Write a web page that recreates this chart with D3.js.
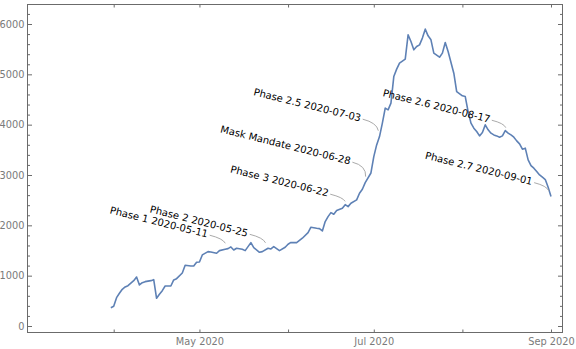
<!DOCTYPE html>
<html>
<head>
<meta charset="utf-8">
<script src="https://cdn.jsdelivr.net/npm/d3@7"></script>
<style>
  body { margin: 0; background: #fff; }
  svg { display: block; font-family: "DejaVu Sans", sans-serif; }
</style>
</head>
<body>
<div id="chart"></div>
<script>
// daily values (month-day, 2020)
const dates = [
  "03-31","04-01","04-02","04-03","04-04","04-05","04-06","04-08","04-09","04-10",
  "04-11","04-12","04-14","04-15","04-16","04-17","04-18","04-19","04-21","04-22",
  "04-23","04-25","04-26","04-28","04-29","04-30","05-01","05-02","05-04","05-05",
  "05-07","05-08","05-10","05-11","05-12","05-13","05-14","05-16","05-17","05-19",
  "05-20","05-22","05-23","05-25","05-26","05-27","05-29","05-31","06-01","06-02",
  "06-04","06-06","06-08","06-09","06-11","06-12","06-13","06-14","06-15","06-16",
  "06-17","06-18","06-20","06-21","06-22","06-23","06-25","06-26","06-27","06-28",
  "06-30","07-01","07-02","07-03","07-04","07-05","07-06","07-07","07-08","07-09",
  "07-10","07-12","07-13","07-14","07-15","07-16","07-17","07-18","07-19","07-20",
  "07-21","07-22","07-24","07-25","07-26","07-27","07-29","07-30","08-01","08-02",
  "08-03","08-04","08-05","08-06","08-07","08-08","08-09","08-10","08-11","08-12",
  "08-13","08-14","08-15","08-16","08-17","08-18","08-19","08-20","08-21","08-22",
  "08-23","08-24","08-25","08-26","08-27","08-28","08-29","08-30","08-31","09-01"
];
const cases = [
  364, 392, 563, 650, 730, 775, 801, 901, 974, 815,
  861, 881, 901, 921, 551, 630, 702, 795, 795, 915,
  940, 1054, 1207, 1193, 1193, 1266, 1272, 1412, 1478, 1471,
  1445, 1497, 1525, 1537, 1571, 1511, 1545, 1525, 1497, 1656,
  1557, 1465, 1478, 1545, 1531, 1577, 1497, 1565, 1624, 1660,
  1656, 1744, 1855, 1962, 1942, 1934, 1889, 2074, 2173, 2253,
  2221, 2293, 2340, 2410, 2372, 2439, 2505, 2638, 2718, 2849,
  3040, 3366, 3598, 3763, 4030, 4328, 4294, 4427, 4956, 5103,
  5222, 5302, 5785, 5652, 5487, 5553, 5586, 5720, 5898, 5765,
  5686, 5421, 5341, 5421, 5633, 5454, 5023, 4658, 4573, 4559,
  4261, 4030, 3930, 3863, 3777, 3845, 3996, 3897, 3831, 3797,
  3777, 3751, 3777, 3883, 3831, 3797, 3751, 3678, 3618, 3513,
  3533, 3300, 3187, 3135, 3068, 3002, 2956, 2910, 2757, 2571
];

// callout events
const events = ["Phase 1", "Phase 2", "Phase 3", "Mask Mandate", "Phase 2.5", "Phase 2.6", "Phase 2.7"];
const eventDates = ["2020-05-11", "2020-05-25", "2020-06-22", "2020-06-28", "2020-07-03", "2020-08-17", "2020-09-01"];
// where the end of each label sits relative to its point (layout only)
const labelOffsets = [[-21, -11], [-21, -11.5], [-20.5, -10], [-15.5, -18], [-19.5, -15], [-19, -10.5], [-19.5, -11.5]];

const yTicks = [0, 1000, 2000, 3000, 4000, 5000, 6000];
const monthTicks = ["2020-04-01", "2020-05-01", "2020-06-01", "2020-07-01", "2020-08-01", "2020-09-01"];
const monthLabels = ["", "May 2020", "", "Jul 2020", "", "Sep 2020"];

const width = 576, height = 349;
const frame = { left: 27.5, right: 562.5, top: 4.5, bottom: 332.5 };
const parse = d3.utcParse("%Y-%m-%d");

const data = dates.map((d, i) => ({ date: parse("2020-" + d), value: cases[i] }));

const x = d3.scaleUtc()
    .domain([parse("2020-04-01"), parse("2020-09-01")])
    .range([113.7, 551]);
const y = d3.scaleLinear()
    .domain([0, 6000])
    .range([326, 24]);

const svg = d3.select("#chart").append("svg")
    .attr("width", width)
    .attr("height", height);

const frameColor = "#6b6b6b";
const textColor = "#7a7a7a";

// frame
svg.append("rect")
    .attr("x", frame.left)
    .attr("y", frame.top)
    .attr("width", frame.right - frame.left)
    .attr("height", frame.bottom - frame.top)
    .attr("fill", "none")
    .attr("stroke", frameColor);

const monthDates = monthTicks.map(parse);
const minorY = d3.range(0, 6400, 200).filter(v => v % 1000 !== 0);

function styleAxis(g) {
    g.select(".domain").remove();
    g.selectAll("line").attr("stroke", frameColor);
    g.selectAll("text").attr("fill", textColor).style("font-size", "9.8px").style("font-family", "DejaVu Sans");
}

// bottom / top
svg.append("g")
    .attr("transform", `translate(0,${frame.bottom})`)
    .call(d3.axisBottom(x).tickValues(monthDates).tickSize(-3).tickPadding(5.5)
        .tickFormat((d, i) => monthLabels[i]))
    .call(styleAxis);
svg.append("g")
    .attr("transform", `translate(0,${frame.top})`)
    .call(d3.axisTop(x).tickValues(monthDates).tickSize(-3).tickFormat(""))
    .call(styleAxis);

// left / right
svg.append("g")
    .attr("transform", `translate(${frame.left},0)`)
    .call(d3.axisLeft(y).tickValues(yTicks).tickSize(-4.5).tickPadding(3).tickFormat(d3.format("d")))
    .call(styleAxis);
svg.append("g")
    .attr("transform", `translate(${frame.left},0)`)
    .call(d3.axisLeft(y).tickValues(minorY).tickSize(-2.5).tickFormat(""))
    .call(styleAxis);
svg.append("g")
    .attr("transform", `translate(${frame.right},0)`)
    .call(d3.axisRight(y).tickValues(yTicks).tickSize(-4.5).tickFormat(""))
    .call(styleAxis);
svg.append("g")
    .attr("transform", `translate(${frame.right},0)`)
    .call(d3.axisRight(y).tickValues(minorY).tickSize(-2.5).tickFormat(""))
    .call(styleAxis);

// series
const line = d3.line()
    .x(d => x(d.date))
    .y(d => y(d.value));

svg.append("path")
    .datum(data)
    .attr("d", line)
    .attr("fill", "none")
    .attr("stroke", "#5e81b5")
    .attr("stroke-width", 1.6)
    .attr("stroke-linejoin", "round");

// callouts
const angle = 14;
const rad = angle * Math.PI / 180;
const dir = [Math.cos(rad), Math.sin(rad)];
const bisect = d3.bisector(d => d.date).left;

events.forEach((name, i) => {
    const t = parse(eventDates[i]);
    const pt = data[Math.min(bisect(data, t), data.length - 1)];
    const px = x(pt.date), py = y(pt.value);
    const ex = px + labelOffsets[i][0], ey = py + labelOffsets[i][1];

    svg.append("text")
        .attr("transform", `translate(${ex},${ey}) rotate(${angle})`)
        .attr("text-anchor", "end")
        .attr("fill", "#000")
        .style("font-size", "10px")
        .text(name + " " + eventDates[i]);

    // leader curve from end of label towards the point
    const sx = ex + dir[0] * 2 + dir[1] * 3, sy = ey + dir[1] * 2 - dir[0] * 3;
    const dist = Math.hypot(px - sx, py - sy);
    const cx = sx + dir[0] * dist * 0.6, cy = sy + dir[1] * dist * 0.6;
    const gl = Math.hypot(cx - px, cy - py);
    const tx = px + (cx - px) / gl * 6, ty = py + (cy - py) / gl * 6;
    const p = d3.path();
    p.moveTo(sx, sy);
    p.quadraticCurveTo(cx, cy, tx, ty);
    svg.append("path")
        .attr("d", p.toString())
        .attr("fill", "none")
        .attr("stroke", "#aaaaaa")
        .attr("stroke-width", 1);
});
</script>
</body>
</html>
